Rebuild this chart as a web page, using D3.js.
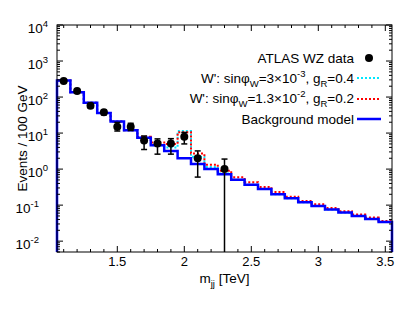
<!DOCTYPE html>
<html>
<head>
<meta charset="utf-8">
<script src="https://cdn.jsdelivr.net/npm/d3@7"></script>
<style>
  body { margin: 0; background: #fff; }
  svg { display: block; font-family: "Liberation Sans", Arial, sans-serif; }
</style>
</head>
<body>
<svg id="chart"></svg>
<script>
// bin centres in TeV (100 GeV wide bins)
const binCenters = [1.1, 1.2, 1.3, 1.4, 1.5, 1.6, 1.7, 1.8, 1.9, 2.0, 2.1, 2.2, 2.3,
  2.4, 2.5, 2.6, 2.7, 2.8, 2.9, 3.0, 3.1, 3.2, 3.3, 3.4, 3.5];

const background = [290, 135, 69, 36, 21, 12, 7.4, 4.6, 3.2, 2.0, 1.38, 1.0, 0.72,
  0.51, 0.37, 0.28, 0.2, 0.155, 0.12, 0.095, 0.076, 0.062, 0.05, 0.041, 0.034];

const wpLight = [290, 135, 69, 36, 21, 12, 7.4, 4.6, 4.0, 11.5, 2.2, 1.15, 0.75,
  0.51, 0.37, 0.28, 0.2, 0.155, 0.12, 0.095, 0.076, 0.062, 0.05, 0.041, 0.034];

const wpHeavy = [290, 135, 69, 36, 21, 12, 7.9, 5.5, 5.0, 10.5, 2.7, 1.33, 0.9,
  0.59, 0.43, 0.32, 0.23, 0.17, 0.13, 0.105, 0.083, 0.068, 0.055, 0.045, 0.036];

const dataMass = [1.1, 1.2, 1.3, 1.4, 1.5, 1.6, 1.7, 1.8, 1.9, 2.0, 2.1, 2.3];
const dataEvents = [280, 147, 57, 37.6, 15, 15, 6.2, 5.1, 5.1, 7.9, 2.0, 1.0];
const dataLow = [263, 135, 50, 32, 11.4, 11.8, 3.5, 2.6, 2.6, 5.0, 0.6, 0.001];
const dataHigh = [297, 159, 64, 43, 19.8, 18.7, 8.3, 6.9, 7.0, 10.4, 3.2, 1.9];

const xTicks = [1.5, 2, 2.5, 3, 3.5];
const yExponents = [4, 3, 2, 1, 0, -1, -2];

const W = 415, H = 321;
const margin = { top: 25, right: 23, bottom: 69, left: 57 };
const binWidth = 0.1;

const svg = d3.select("#chart").attr("width", W).attr("height", H);

const x = d3.scaleLinear().domain([1.05, 3.55]).range([margin.left, W - margin.right]);
const y = d3.scaleLog().domain([0.005, 1e4]).range([H - margin.bottom, margin.top]);
const yMin = y.domain()[0];

// step histogram: rises from bottom at first edge, falls back at last edge
function histPoints(values) {
  const pts = [{ x: binCenters[0] - binWidth / 2, v: yMin }];
  binCenters.forEach((c, i) => pts.push({ x: c - binWidth / 2, v: values[i] }));
  const last = binCenters[binCenters.length - 1] + binWidth / 2;
  pts.push({ x: last, v: values[values.length - 1] });
  pts.push({ x: last, v: yMin });
  return pts;
}

const step = d3.line()
  .x((d) => x(d.x))
  .y((d) => y(Math.max(d.v, yMin)))
  .curve(d3.curveStepAfter);

const plot = svg.append("g");

plot.append("path")
  .datum(histPoints(wpLight))
  .attr("fill", "none")
  .attr("stroke", "#00e8ff")
  .attr("stroke-width", 2)
  .attr("stroke-dasharray", "2,2")
  .attr("d", step);

plot.append("path")
  .datum(histPoints(wpHeavy))
  .attr("fill", "none")
  .attr("stroke", "#ff0000")
  .attr("stroke-width", 2)
  .attr("stroke-dasharray", "2,2")
  .attr("d", step);

plot.append("path")
  .datum(histPoints(background))
  .attr("fill", "none")
  .attr("stroke", "#0000ff")
  .attr("stroke-width", 2.5)
  .attr("d", step);

// data with error bars
const pts = dataMass.map((m, i) => ({ m, v: dataEvents[i], lo: dataLow[i], hi: dataHigh[i] }));

plot.selectAll(".err")
  .data(pts)
  .enter()
  .append("line")
  .attr("x1", (d) => x(d.m))
  .attr("x2", (d) => x(d.m))
  .attr("y1", (d) => y(Math.max(d.lo, yMin)))
  .attr("y2", (d) => y(d.hi))
  .attr("stroke", "#000")
  .attr("stroke-width", 1.5);

["lo", "hi"].forEach((k) => {
  plot.selectAll(".cap-" + k)
    .data(pts.filter((d) => d[k] > yMin))
    .enter()
    .append("line")
    .attr("x1", (d) => x(d.m) - 3)
    .attr("x2", (d) => x(d.m) + 3)
    .attr("y1", (d) => y(d[k]))
    .attr("y2", (d) => y(d[k]))
    .attr("stroke", "#000")
    .attr("stroke-width", 1.5);
});

plot.selectAll(".dot")
  .data(pts)
  .enter()
  .append("circle")
  .attr("cx", (d) => x(d.m))
  .attr("cy", (d) => y(d.v))
  .attr("r", 4)
  .attr("fill", "#000");

// frame
const x0 = margin.left, x1 = W - margin.right, y0 = margin.top, y1 = H - margin.bottom;
svg.append("rect")
  .attr("x", x0).attr("y", y0)
  .attr("width", x1 - x0).attr("height", y1 - y0)
  .attr("fill", "none").attr("stroke", "#000").attr("stroke-width", 1);

// x ticks (inward, bottom and top)
const xMinor = d3.range(11, 36).map((k) => k / 10);
const tickG = svg.append("g").attr("stroke", "#000").attr("stroke-width", 1);
xMinor.forEach((t) => {
  const major = xTicks.some((m) => Math.abs(m - t) < 1e-9);
  const len = major ? 6 : 3;
  tickG.append("line").attr("x1", x(t)).attr("x2", x(t)).attr("y1", y1).attr("y2", y1 - len);
  tickG.append("line").attr("x1", x(t)).attr("x2", x(t)).attr("y1", y0).attr("y2", y0 + len);
});

// y ticks, log minor ticks
yExponents.forEach((e) => {
  for (let m = 1; m < 10; m++) {
    const v = m * Math.pow(10, e);
    if (v < yMin || v > 1e4) continue;
    const len = m === 1 ? 6 : 3;
    tickG.append("line").attr("x1", x0).attr("x2", x0 + len).attr("y1", y(v)).attr("y2", y(v));
    tickG.append("line").attr("x1", x1).attr("x2", x1 - len).attr("y1", y(v)).attr("y2", y(v));
  }
});
[5, 6, 7, 8, 9].forEach((m) => {
  const v = m * 1e-3;
  tickG.append("line").attr("x1", x0).attr("x2", x0 + 3).attr("y1", y(v)).attr("y2", y(v));
  tickG.append("line").attr("x1", x1).attr("x2", x1 - 3).attr("y1", y(v)).attr("y2", y(v));
});

// x tick labels
svg.append("g").selectAll("text")
  .data(xTicks)
  .enter()
  .append("text")
  .attr("x", (d) => x(d))
  .attr("y", y1 + 14)
  .attr("text-anchor", "middle")
  .attr("font-size", "13px")
  .attr("fill", "#000")
  .text((d) => d);

// y tick labels 10^n ("10" placed, exponent follows)
const yl = svg.append("g").selectAll("text")
  .data(yExponents)
  .enter()
  .append("text")
  .attr("x", (d) => (d < 0 ? 39 : 48))
  .attr("y", (d) => y(Math.pow(10, d)) + 8)
  .attr("font-size", "13.5px")
  .attr("fill", "#000");
yl.append("tspan").attr("text-anchor", "end").text("10");
yl.append("tspan").attr("dy", -6).attr("font-size", "9.5px").text((d) => (d < 0 ? "-" + Math.abs(d) : d));

// axis titles
svg.append("text")
  .attr("transform", `translate(27,${(y0 + y1) / 2}) rotate(-90)`)
  .attr("text-anchor", "middle")
  .attr("font-size", "13.5px")
  .text("Events / 100 GeV");

const xt = svg.append("text")
  .attr("x", (x0 + x1) / 2)
  .attr("y", 283)
  .attr("text-anchor", "middle")
  .attr("font-size", "13.5px");
xt.append("tspan").text("m");
xt.append("tspan").attr("dy", 4).attr("font-size", "9.5px").text("jj");
xt.append("tspan").attr("dy", -4).text(" [TeV]");

// legend
const legX = 354, symX0 = 357, symX1 = 381;
const leg = svg.append("g").attr("font-size", "13.5px").attr("fill", "#000");

leg.append("text").attr("x", legX).attr("y", 63).attr("text-anchor", "end").text("ATLAS WZ data");
leg.append("circle").attr("cx", (symX0 + symX1) / 2).attr("cy", 58).attr("r", 4).attr("fill", "#000");

function wLabel(yy, coup, exp, g) {
  const t = leg.append("text").attr("x", legX).attr("y", yy).attr("text-anchor", "end");
  t.append("tspan").text("W': sinφ");
  t.append("tspan").attr("dy", 4).attr("font-size", "9.5px").text("W");
  t.append("tspan").attr("dy", -4).text("=" + coup + "×10");
  t.append("tspan").attr("dy", -6).attr("font-size", "9.5px").text(exp);
  t.append("tspan").attr("dy", 6).text(", g");
  t.append("tspan").attr("dy", 4).attr("font-size", "9.5px").text("R");
  t.append("tspan").attr("dy", -4).text("=" + g);
}
wLabel(83, "3", "-3", "0.4");
leg.append("line").attr("x1", symX0).attr("x2", symX1).attr("y1", 78).attr("y2", 78)
  .attr("stroke", "#00e8ff").attr("stroke-width", 2).attr("stroke-dasharray", "2,2");
wLabel(103, "1.3", "-2", "0.2");
leg.append("line").attr("x1", symX0).attr("x2", symX1).attr("y1", 99).attr("y2", 99)
  .attr("stroke", "#ff0000").attr("stroke-width", 2).attr("stroke-dasharray", "2,2");

leg.append("text").attr("x", legX).attr("y", 124).attr("text-anchor", "end").text("Background model");
leg.append("line").attr("x1", symX0).attr("x2", symX1).attr("y1", 119).attr("y2", 119)
  .attr("stroke", "#0000ff").attr("stroke-width", 2.5);
</script>
</body>
</html>
